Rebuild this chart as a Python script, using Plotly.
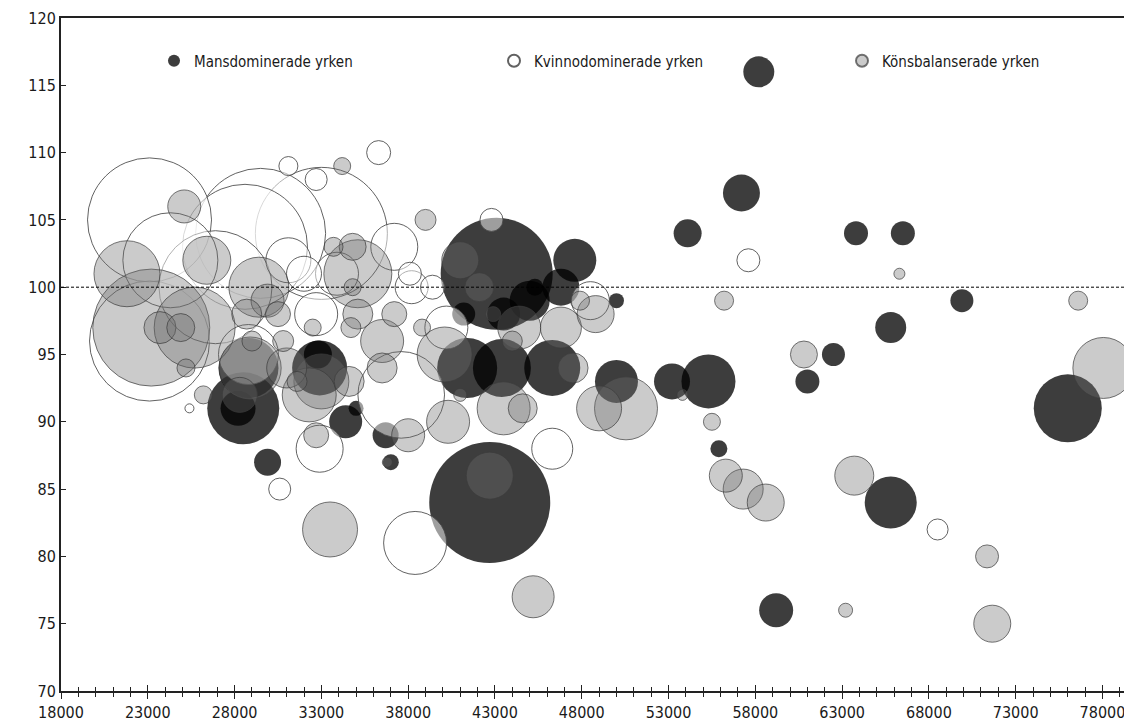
import plotly.graph_objects as go
import numpy as np

# ---- Data: lön (x), kvinnors lön i % av mäns (y), antal anställda (bubbelstorlek) ----
man_x = [58200, 57200, 54100, 63800, 66500, 69900, 65800, 62500, 61000, 53200,
         55300, 55900, 76000, 65800, 59200, 42700, 43100, 47600, 46800, 45300,
         50000, 41200, 43500, 45000, 41400, 43400, 46300, 50000, 28500, 28200,
         29900, 34400, 37000, 36700, 32800, 32900, 28800, 35000]
man_y = [116, 107, 104, 104, 104, 99, 97, 95, 93, 93,
         93, 88, 91, 84, 76, 84, 101, 102, 100, 100,
         99, 98, 98, 99, 94, 94, 94, 93, 91, 91,
         87, 90, 87, 89, 95, 94, 94, 91]
man_n = [3844, 5476, 3136, 2304, 2304, 2116, 3844, 2116, 2304, 5184,
         11664, 1156, 18496, 10816, 4624, 58564, 50176, 7396, 5476, 1156,
         900, 2116, 4356, 6400, 14400, 13456, 12544, 7396, 20736, 4900,
         2916, 4356, 1024, 2704, 3136, 12100, 14400, 900]

kvinno_x = [23100, 33000, 29500, 28600, 24300, 26900, 23100, 31100, 32700, 36300,
            37200, 38100, 39400, 25400, 30600, 32900, 38400, 46300, 57600, 68500,
            42800, 48500, 37600, 33900, 38200, 32700, 40200, 31100, 32000, 28800]
kvinno_y = [105, 104, 104, 103, 102, 100, 96, 109, 108, 110,
            103, 101, 100, 91, 85, 88, 81, 88, 102, 82,
            105, 99, 92, 101, 100, 98, 97, 102, 101, 95]
kvinno_n = [61504, 69696, 67600, 62500, 36100, 51076, 57600, 1444, 1936, 2304,
            8836, 2116, 2304, 324, 1936, 8836, 15876, 6724, 2116, 1764,
            2116, 5776, 30000, 7396, 4356, 7396, 7396, 8100, 4900, 14400]

balans_x = [23200, 21800, 25700, 26400, 29400, 29900, 30500, 23700, 24900, 28700,
            25200, 30800, 31600, 26200, 29000, 25100, 34200, 39000, 35100, 34800,
            33700, 34800, 32500, 35100, 34700, 37200, 36500, 38800, 40100, 36500,
            34600, 32300, 41000, 43500, 44600, 49000, 50550, 47500, 40300, 46800,
            44400, 44000, 48800, 41000, 42100, 42700, 33500, 45200, 32700, 38000,
            36800, 28300, 31000, 53800, 56200, 66300, 76600, 60800, 55500, 56300,
            57300, 58600, 63700, 71350, 63200, 71650, 78050, 42900, 47900, 28900,
            33000]
balans_y = [97, 101, 97, 102, 100, 99, 98, 97, 97, 98,
            94, 96, 93, 92, 96, 106, 109, 105, 101, 100,
            103, 103, 97, 98, 97, 98, 96, 97, 95, 94,
            93, 92, 92, 91, 91, 91, 91, 94, 90, 97,
            97, 96, 98, 102, 100, 86, 82, 77, 89, 89,
            87, 92, 94, 92, 99, 101, 99, 95, 90, 86,
            85, 84, 86, 80, 76, 75, 94, 98, 99, 94,
            93]
balans_n = [54756, 17424, 26244, 9216, 14400, 4356, 2500, 4096, 3136, 3600,
            1296, 1764, 1600, 1296, 1600, 4356, 1156, 1764, 18496, 1156,
            1444, 2916, 1156, 3600, 1600, 2500, 7396, 1156, 12100, 3600,
            3600, 11664, 676, 11236, 3364, 8100, 15876, 3600, 7396, 6724,
            7396, 1600, 5476, 5476, 3364, 8836, 12100, 7056, 2500, 4356,
            400, 4900, 6400, 484, 1444, 484, 1444, 2916, 1156, 4356,
            6400, 5476, 6084, 2116, 784, 5476, 14884, 900, 1444, 15376,
            12100]

x_ticks = list(range(18000, 78001, 5000))
y_ticks = list(range(70, 121, 5))

FONT = "'DejaVu Sans Condensed', 'Liberation Sans Narrow', sans-serif"
SIZEREF = 8.0

# page body has an 8px margin; compensate so the plot area spans x 61..1132, y 18..691
W, H = 1124, 717
ML, MR, MT, MB = 53, 0, 10, 34
PW = W - ML - MR


def ordered(xs, ys, ns):
    idx = np.argsort(-np.array(ns), kind="stable")
    return ([xs[i] for i in idx], [ys[i] for i in idx], [ns[i] for i in idx])


fig = go.Figure()
groups = [
    ("Mansdominerade yrken", man_x, man_y, man_n, "rgba(0,0,0,0.76)", "rgba(0,0,0,0)", 0, "legend"),
    ("Kvinnodominerade yrken", kvinno_x, kvinno_y, kvinno_n, "rgba(255,255,255,0.5)", "rgba(70,70,70,0.85)", 1, "legend2"),
    ("Könsbalanserade yrken", balans_x, balans_y, balans_n, "rgba(110,110,110,0.36)", "rgba(60,60,60,0.7)", 1, "legend3"),
]
for name, xs, ys, ns, fill, line, lw, lg in groups:
    xs2, ys2, ns2 = ordered(xs, ys, ns)
    fig.add_trace(go.Scatter(
        x=xs2, y=ys2, mode="markers", name=name, legend=lg,
        marker=dict(size=ns2, sizemode="area", sizeref=SIZEREF, opacity=1,
                    color=fill, line=dict(color=line, width=lw)),
        hoverinfo="skip",
    ))

# empty helper trace so the overlaid axis (inner half of the crossing x ticks) is drawn
fig.add_trace(go.Scatter(x=[], y=[], xaxis="x2", yaxis="y", showlegend=False, hoverinfo="skip"))

fig.add_shape(type="line", xref="paper", x0=0, x1=1, yref="y", y0=100, y1=100,
              line=dict(color="black", width=1, dash="3px,2px"), layer="above")


def leg(px_left):
    # px_left: page x of the legend box left edge
    return dict(orientation="h", x=(px_left - 61) / PW, xanchor="left",
                y=0.936, yanchor="middle", itemsizing="constant",
                font=dict(family=FONT, size=15, color="#1a1a1a"),
                bgcolor="rgba(0,0,0,0)", borderwidth=0)


xcommon = dict(range=[18000, 79700], tickvals=x_ticks, showgrid=False, zeroline=False,
               tickcolor="#222", tickwidth=1)

fig.update_layout(
    width=W, height=H,
    margin=dict(l=ML, r=MR, t=MT, b=MB),
    paper_bgcolor="white", plot_bgcolor="white",
    font=dict(family=FONT, size=16, color="#1a1a1a"),
    showlegend=True,
    legend=leg(154), legend2=leg(494), legend3=leg(842),
    xaxis=dict(**xcommon, ticktext=[str(v) for v in x_ticks],
               showline=True, linecolor="#222", linewidth=2, mirror=True,
               ticks="outside", ticklen=6,
               minor=dict(dtick=1000, tick0=18000, ticks="outside", ticklen=4,
                          tickcolor="#222", showgrid=False),
               tickfont=dict(size=16)),
    xaxis2=dict(**xcommon, overlaying="x", matches="x", anchor="y", side="bottom",
                showline=False, showticklabels=False, ticks="inside", ticklen=6,
                minor=dict(dtick=1000, tick0=18000, ticks="inside", ticklen=4,
                           tickcolor="#222", showgrid=False)),
    yaxis=dict(range=[70, 120], tickvals=y_ticks, ticktext=[str(v) for v in y_ticks],
               showgrid=False, zeroline=False, showline=True, linecolor="#222", linewidth=2,
               ticks="inside", ticklen=5, tickcolor="#222", tickfont=dict(size=16)),
)

fig.write_html("out.html")
